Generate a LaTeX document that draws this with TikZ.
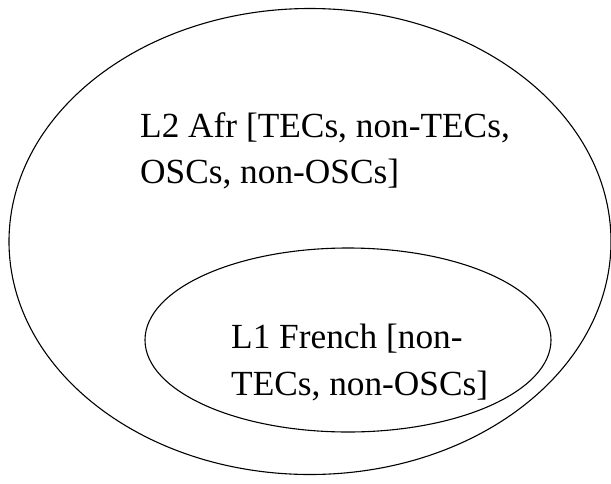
\documentclass[tikz,border=0pt]{standalone}
\usepackage{fontspec}
\setmainfont{Liberation Serif}
\tikzset{
  ring/.style={draw=black, line width=1.1pt},
  lbl/.style={anchor=base west, inner sep=0pt, font=\fontsize{35.3}{46}\selectfont}
}
\begin{document}
\begin{tikzpicture}[x=1pt,y=-1pt]
\useasboundingbox (0,0) rectangle (611,483);
\draw[ring] (310,241.5) ellipse [x radius=301, y radius=233];
\draw[ring] (348,340) ellipse [x radius=203, y radius=92];
\node[lbl] (l2a) at (140,137) {L2 Afr [TECs, non-TECs,};
\node[lbl] (l2b) at (140,183) {OSCs, non-OSCs]};
\node[lbl] (l1a) at (231,348) {L1 French [non-};
\node[lbl] (l1b) at (231,395) {TECs, non-OSCs]};
\end{tikzpicture}
\end{document}
